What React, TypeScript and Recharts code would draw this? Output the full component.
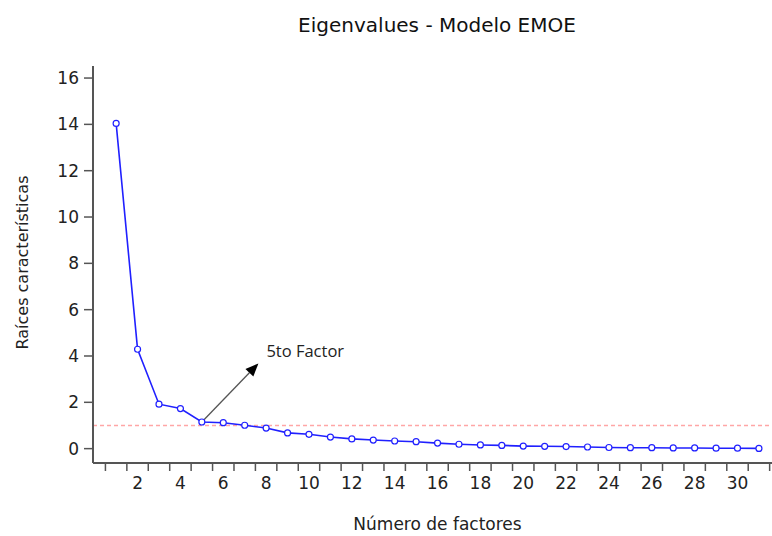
import React from 'react';
import { LineChart, Line, XAxis, YAxis, ReferenceLine } from 'recharts';

// numero de factor y su raiz caracteristica
const factors = [1, 2, 3, 4, 5, 6, 7, 8, 9, 10, 11, 12, 13, 14, 15, 16, 17, 18, 19, 20, 21, 22, 23, 24, 25, 26, 27, 28, 29, 30, 31];
const eigenvalues = [14.04, 4.29, 1.92, 1.73, 1.15, 1.12, 1.01, 0.89, 0.68, 0.62, 0.5, 0.42, 0.37, 0.33, 0.3, 0.24, 0.19, 0.16, 0.14, 0.11, 0.1, 0.09, 0.07, 0.05, 0.04, 0.04, 0.03, 0.03, 0.02, 0.02, 0.01];
const xLabels = [2, 4, 6, 8, 10, 12, 14, 16, 18, 20, 22, 24, 26, 28, 30];
const yTicks = [0, 2, 4, 6, 8, 10, 12, 14, 16];
const cutoff = 1;
const arrowFrom = { x: 5, y: 1.15 };
const arrowTo = { x: 7.64, y: 3.68 };

const data = factors.map((f, i) => ({ factor: f, value: eigenvalues[i] }));
const boundaries = [0.5, ...factors.map(f => f + 0.5)];
const xTicks = [...boundaries, ...xLabels].sort((a, b) => a - b);
const xDomain = [-0.08, 31.61];

const AXIS = '#555';
const BLUE = '#2020ff';
const FONT = '"DejaVu Sans", sans-serif';

const XTick = (props: any) => {
  const { x, y, payload } = props;
  const v = payload.value;
  if (v % 1 !== 0) {
    return <line x1={x} x2={x} y1={y + 1} y2={y + 8} stroke={AXIS} strokeWidth={1.5} />;
  }
  return (
    <text x={x} y={y + 26} textAnchor="middle" fontFamily={FONT} fontSize={17} fill="#222">
      {v}
    </text>
  );
};

const ArrowShape = (props: any) => {
  const { x1, y1, x2, y2 } = props;
  const dx = x2 - x1;
  const dy = y2 - y1;
  const len = Math.sqrt(dx * dx + dy * dy);
  const ux = dx / len;
  const uy = dy / len;
  const head = 13;
  const half = 5.5;
  const bx = x2 - ux * head;
  const by = y2 - uy * head;
  return (
    <g>
      <line x1={x1} y1={y1} x2={bx} y2={by} stroke="#555" strokeWidth={1.3} />
      <polygon
        points={`${x2},${y2} ${bx - uy * half},${by + ux * half} ${bx + uy * half},${by - ux * half}`}
        fill="#000"
      />
      <text x={x2 + 8} y={y2 - 6} fontFamily='"Open Sans", sans-serif' fontSize={16.5} fill="#222">
        5to Factor
      </text>
    </g>
  );
};

export default function App() {
  return (
    <div style={{ position: 'absolute', left: 0, top: 0, width: 772, height: 536, background: '#fff' }}>
      <div
        style={{
          position: 'absolute',
          left: 437,
          top: 13,
          transform: 'translateX(-50%)',
          whiteSpace: 'nowrap',
          fontFamily: FONT,
          fontSize: 20,
          color: '#111',
        }}
      >
        Eigenvalues - Modelo EMOE
      </div>
      <LineChart width={772} height={536} data={data} margin={{ top: 66, right: 0, bottom: 23, left: 13 }}>
        <XAxis
          dataKey="factor"
          type="number"
          domain={xDomain}
          allowDataOverflow
          ticks={xTicks}
          interval={0}
          tick={<XTick />}
          tickLine={false}
          tickSize={0}
          tickMargin={0}
          height={50}
          axisLine={{ stroke: AXIS, strokeWidth: 2 }}
          label={{
            value: 'Número de factores',
            content: ({ viewBox }: any) => (
              <text
                x={viewBox.x + viewBox.width / 2 + 5}
                y={530}
                textAnchor="middle"
                fontFamily={FONT}
                fontSize={17}
                fill="#222"
              >
                Número de factores
              </text>
            ),
          }}
        />
        <XAxis
          xAxisId="top"
          orientation="top"
          dataKey="factor"
          type="number"
          domain={xDomain}
          allowDataOverflow
          height={0}
          tick={false}
          tickLine={false}
          axisLine={{ stroke: AXIS, strokeWidth: 2 }}
        />
        <YAxis
          type="number"
          domain={[-0.62, 16.52]}
          allowDataOverflow
          ticks={yTicks}
          interval={0}
          width={80}
          tickSize={9}
          tickMargin={5}
          tick={{ fontFamily: FONT, fontSize: 17, fill: '#222' }}
          tickLine={{ stroke: AXIS, strokeWidth: 1.5 }}
          axisLine={{ stroke: AXIS, strokeWidth: 2 }}
          label={{
            value: 'Raíces características',
            content: ({ viewBox }: any) => {
              const cx = 22;
              const cy = viewBox.y + viewBox.height / 2 - 2;
              return (
                <text
                  x={cx}
                  y={cy}
                  transform={`rotate(-90, ${cx}, ${cy})`}
                  textAnchor="middle"
                  dominantBaseline="central"
                  fontFamily={FONT}
                  fontSize={16}
                  fill="#222"
                >
                  Raíces características
                </text>
              );
            },
          }}
        />
        {/* linea de corte (autovalor = 1) */}
        <ReferenceLine
          y={cutoff}
          stroke="#ff0000"
          strokeOpacity={0.35}
          strokeWidth={1.5}
          strokeDasharray="4 3"
          ifOverflow="extendDomain"
        />
        <Line
          type="linear"
          dataKey="value"
          stroke={BLUE}
          strokeWidth={1.6}
          dot={{ r: 3, stroke: BLUE, strokeWidth: 1.2, fill: '#fff' }}
          isAnimationActive={false}
        />
        <ReferenceLine segment={[arrowFrom, arrowTo]} shape={<ArrowShape />} />
      </LineChart>
    </div>
  );
}
